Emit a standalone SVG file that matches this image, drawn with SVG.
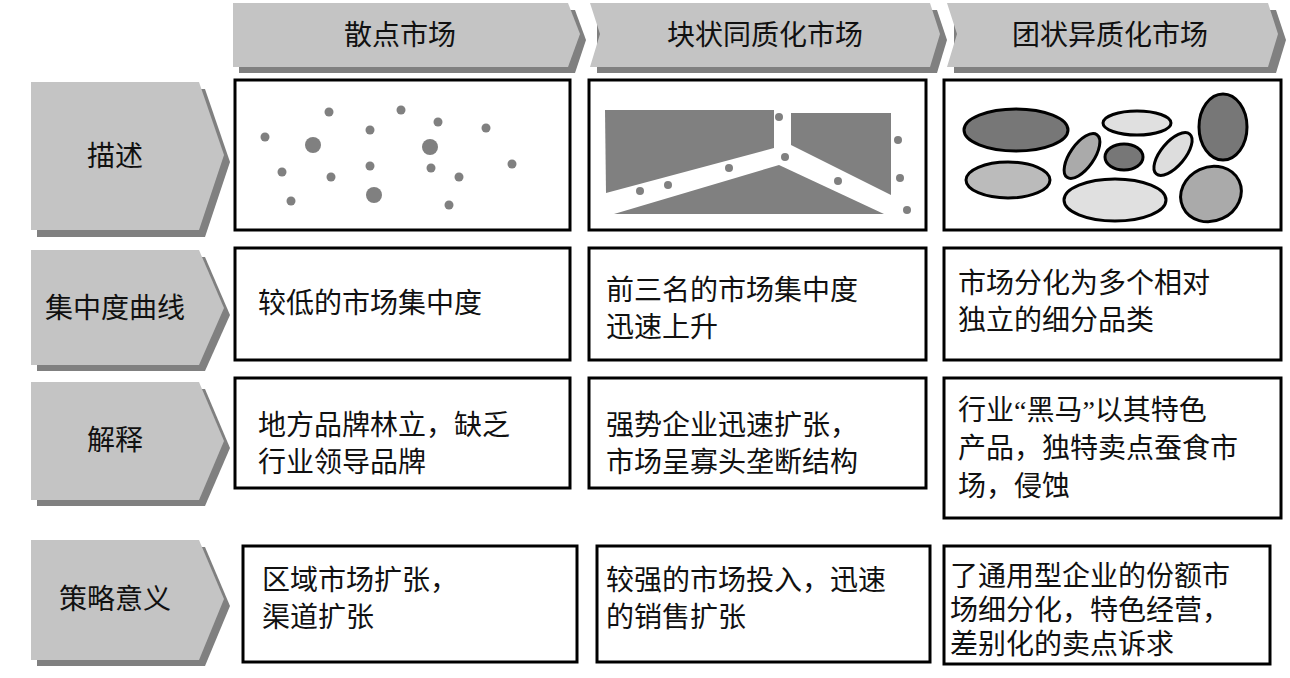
<svg xmlns="http://www.w3.org/2000/svg" width="1290" height="678" viewBox="0 0 1290 678">
<style>
.sh{fill:#808080}.ch{fill:#c4c4c4}
.t{font-family:"Liberation Serif","Noto Sans CJK SC",serif;font-size:28px;fill:#111}
.box{fill:#fff;stroke:#000;stroke-width:3}
.d{fill:#808080}
.e{stroke:#000;stroke-width:3}
</style>
<rect width="1290" height="678" fill="#fff"/>
<g id="h1"><path class="sh" d="M239 10 H575 L586 40 L575 73 H239 Z"/><path class="ch" d="M233 3 H568 L580 34 L568 67 H233 Z"/><text class="t" x="400" y="45" text-anchor="middle">散点市场</text></g>
<g id="h2"><path class="sh" d="M597 10 H937 L947 40 L937 73 H597 Z"/><path class="ch" d="M590 3 H930 L940 34 L930 67 H590 L600 34 Z"/><text class="t" x="765" y="45" text-anchor="middle">块状同质化市场</text></g>
<g id="h3"><path class="sh" d="M954 10 H1276 L1286 40 L1276 73 H954 Z"/><path class="ch" d="M947 3 H1268 L1278 34 L1268 67 H947 L957 34 Z"/><text class="t" x="1110" y="45" text-anchor="middle">团状异质化市场</text></g>
<g id="r1"><path class="sh" d="M37 89 H205 L230 162 L205 237 H37 Z"/><path class="ch" d="M31 82 H199 L224 155 L199 230 H31 Z"/><text class="t" x="115" y="166" text-anchor="middle">描述</text></g>
<g id="r2"><path class="sh" d="M37 257 H205 L230 315 L205 371 H37 Z"/><path class="ch" d="M31 250 H199 L224 308 L199 365 H31 Z"/><text class="t" x="115" y="318" text-anchor="middle">集中度曲线</text></g>
<g id="r3"><path class="sh" d="M37 389 H205 L230 448 L205 506 H37 Z"/><path class="ch" d="M31 382 H199 L224 441 L199 500 H31 Z"/><text class="t" x="115" y="450" text-anchor="middle">解释</text></g>
<g id="r4"><path class="sh" d="M37 547 H205 L230 606 L205 666 H37 Z"/><path class="ch" d="M31 540 H199 L224 599 L199 660 H31 Z"/><text class="t" x="115" y="609" text-anchor="middle">策略意义</text></g>
<g id="c11"><rect class="box" x="235" y="80" width="335" height="150"/>
<g class="d"><circle cx="265" cy="137" r="4.5"/><circle cx="329" cy="112" r="4.5"/><circle cx="401" cy="110" r="4.5"/><circle cx="313" cy="145" r="8"/><circle cx="370" cy="130" r="4.5"/><circle cx="438" cy="122" r="4.5"/><circle cx="430" cy="147" r="8"/><circle cx="486" cy="128" r="4.5"/><circle cx="282" cy="172" r="4.5"/><circle cx="331" cy="177" r="4.5"/><circle cx="370" cy="166" r="4.5"/><circle cx="431" cy="168" r="4.5"/><circle cx="459" cy="177" r="4.5"/><circle cx="512" cy="164" r="4.5"/><circle cx="291" cy="201" r="4.5"/><circle cx="374" cy="195" r="8"/><circle cx="449" cy="205" r="4.5"/></g></g>
<g id="c12"><rect class="box" x="589" y="80" width="337" height="150"/>
<g class="d"><path d="M605 110 H774 V148 L606 193 Z"/><path d="M791 113 H891 V195 L791 145 Z"/><path d="M614 214 L779 165 L884 214 Z"/>
<circle cx="779" cy="117" r="4"/><circle cx="898" cy="140" r="4"/><circle cx="900" cy="178" r="4"/><circle cx="907" cy="210" r="4"/><circle cx="785" cy="157" r="4"/><circle cx="729" cy="168" r="4"/><circle cx="838" cy="181" r="4"/><circle cx="668" cy="185" r="4"/><circle cx="640" cy="191" r="4"/></g></g>
<g id="c13"><rect class="box" x="944" y="80" width="337" height="150"/>
<ellipse class="e" cx="1016" cy="130" rx="52" ry="21" fill="#777"/>
<ellipse class="e" cx="1137" cy="123" rx="34" ry="12" fill="#e0e0e0"/>
<ellipse class="e" cx="1223" cy="127" rx="24" ry="33" fill="#777"/>
<ellipse class="e" cx="1082" cy="156" rx="12" ry="26" fill="#aaa" transform="rotate(35 1082 156)"/>
<ellipse class="e" cx="1124" cy="157" rx="19" ry="13" fill="#777"/>
<ellipse class="e" cx="1173" cy="154" rx="12" ry="26" fill="#ddd" transform="rotate(40 1173 154)"/>
<ellipse class="e" cx="1008" cy="180" rx="42" ry="18" fill="#bbb"/>
<ellipse class="e" cx="1115" cy="200" rx="51" ry="21" fill="#e0e0e0"/>
<ellipse class="e" cx="1211" cy="194" rx="31" ry="27" fill="#aaa" transform="rotate(-25 1211 194)"/></g>
<g id="c21"><rect class="box" x="235" y="248" width="335" height="112"/><text class="t" x="258" y="313">较低的市场集中度</text></g>
<g id="c22"><rect class="box" x="589" y="248" width="337" height="112"/><text class="t" x="606" y="300">前三名的市场集中度</text><text class="t" x="606" y="337">迅速上升</text></g>
<g id="c23"><rect class="box" x="944" y="248" width="337" height="112"/><text class="t" x="958" y="293">市场分化为多个相对</text><text class="t" x="958" y="330">独立的细分品类</text></g>
<g id="c31"><rect class="box" x="235" y="378" width="335" height="110"/><text class="t" x="258" y="435">地方品牌林立，缺乏</text><text class="t" x="258" y="472">行业领导品牌</text></g>
<g id="c32"><rect class="box" x="589" y="378" width="337" height="110"/><text class="t" x="606" y="435">强势企业迅速扩张，</text><text class="t" x="606" y="472">市场呈寡头垄断结构</text></g>
<g id="c33"><rect class="box" x="944" y="378" width="337" height="140"/><text class="t" x="958" y="420">行业“黑马”以其特色</text><text class="t" x="958" y="458">产品，独特卖点蚕食市</text><text class="t" x="958" y="496">场，侵蚀</text></g>
<g id="c41"><rect class="box" x="243" y="546" width="334" height="116"/><text class="t" x="262" y="590">区域市场扩张，</text><text class="t" x="262" y="627">渠道扩张</text></g>
<g id="c42"><rect class="box" x="597" y="546" width="333" height="116"/><text class="t" x="606" y="590">较强的市场投入，迅速</text><text class="t" x="606" y="627">的销售扩张</text></g>
<g id="c43"><rect class="box" x="944" y="546" width="326" height="118"/><text class="t" x="950" y="586">了通用型企业的份额市</text><text class="t" x="950" y="620">场细分化，特色经营，</text><text class="t" x="950" y="654">差别化的卖点诉求</text></g>
<g id="connectors"/>
</svg>
